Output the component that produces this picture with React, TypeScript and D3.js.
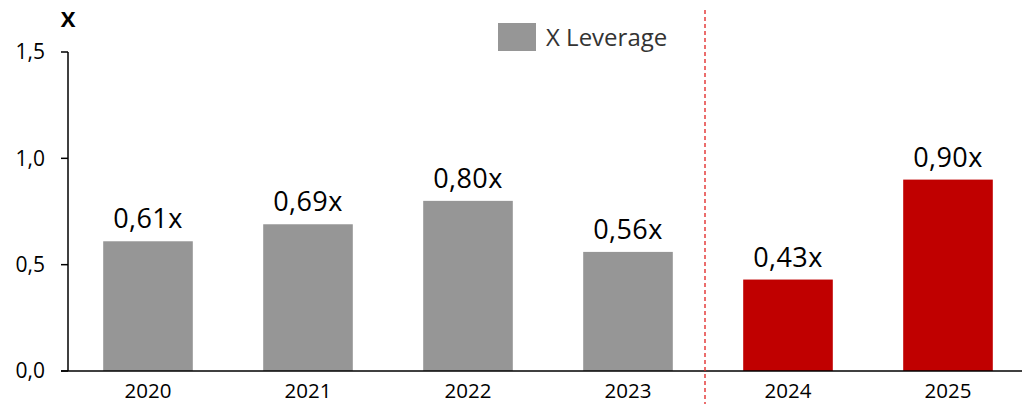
import React from "react";
import * as d3 from "d3";

const years = ["2020", "2021", "2022", "2023", "2024", "2025"];
const leverage = [0.61, 0.69, 0.8, 0.56, 0.43, 0.9];
const labels = ["0,61x", "0,69x", "0,80x", "0,56x", "0,43x", "0,90x"];
const forecast = [false, false, false, false, true, true];
const yTicks = [0, 0.5, 1.0, 1.5];
const yTickLabels = ["0,0", "0,5", "1,0", "1,5"];

const W = 1023;
const H = 404;
const left = 68;
const right = 1028;
const top = 52;
const bottom = 371;
const FONT = "'Open Sans', 'Liberation Sans', sans-serif";

export default function App() {
  const x = d3.scaleBand<string>().domain(years).range([left, right]).paddingInner(0.44).paddingOuter(0.22);
  const y = d3.scaleLinear().domain([0, 1.5]).range([bottom, top]);
  const sepX = (x("2023")! + x.bandwidth() + x("2024")!) / 2 - 3;
  return (
    <svg width={W} height={H} style={{ position: "absolute", left: 0, top: 0, background: "#fff" }}>
      {years.map((yr, i) => (
        <rect key={yr} x={x(yr)} y={y(leverage[i])} width={x.bandwidth()} height={bottom - y(leverage[i])}
          fill={forecast[i] ? "#C00000" : "#969696"} />
      ))}
      {years.map((yr, i) => (
        <text key={"l" + yr} x={x(yr)! + x.bandwidth() / 2} y={y(leverage[i]) - 13} textAnchor="middle"
          fontFamily={FONT} fontSize={27} letterSpacing={0.4} fill="#000">{labels[i]}</text>
      ))}
      <line x1={left} x2={left} y1={top} y2={bottom} stroke="#000" strokeWidth={1.5} />
      <line x1={left - 7} x2={1022} y1={bottom} y2={bottom} stroke="#000" strokeWidth={1.5} />
      {yTicks.map((t, i) => (
        <g key={"t" + t}>
          <line x1={left - 7} x2={left} y1={y(t)} y2={y(t)} stroke="#000" strokeWidth={1.5} />
          <text x={left - 23} y={y(t)} dy="0.35em" textAnchor="end" fontFamily={FONT} fontSize={21} fill="#000">{yTickLabels[i]}</text>
        </g>
      ))}
      {years.map((yr) => (
        <text key={"x" + yr} x={x(yr)! + x.bandwidth() / 2} y={bottom + 27} textAnchor="middle"
          fontFamily={FONT} fontSize={20.5} fill="#000">{yr}</text>
      ))}
      <text x={68} y={27} textAnchor="middle" fontFamily={FONT} fontSize={22} fontWeight="bold" fill="#000">X</text>
      <line x1={sepX} x2={sepX} y1={10} y2={H} stroke="#E0201F" strokeWidth={1.3} strokeDasharray="4,3" />
      <rect x={498} y={23} width={38} height={28} fill="#969696" />
      <text x={546} y={38} dy="0.35em" fontFamily={FONT} fontSize={24} fill="#333">X Leverage</text>
    </svg>
  );
}
